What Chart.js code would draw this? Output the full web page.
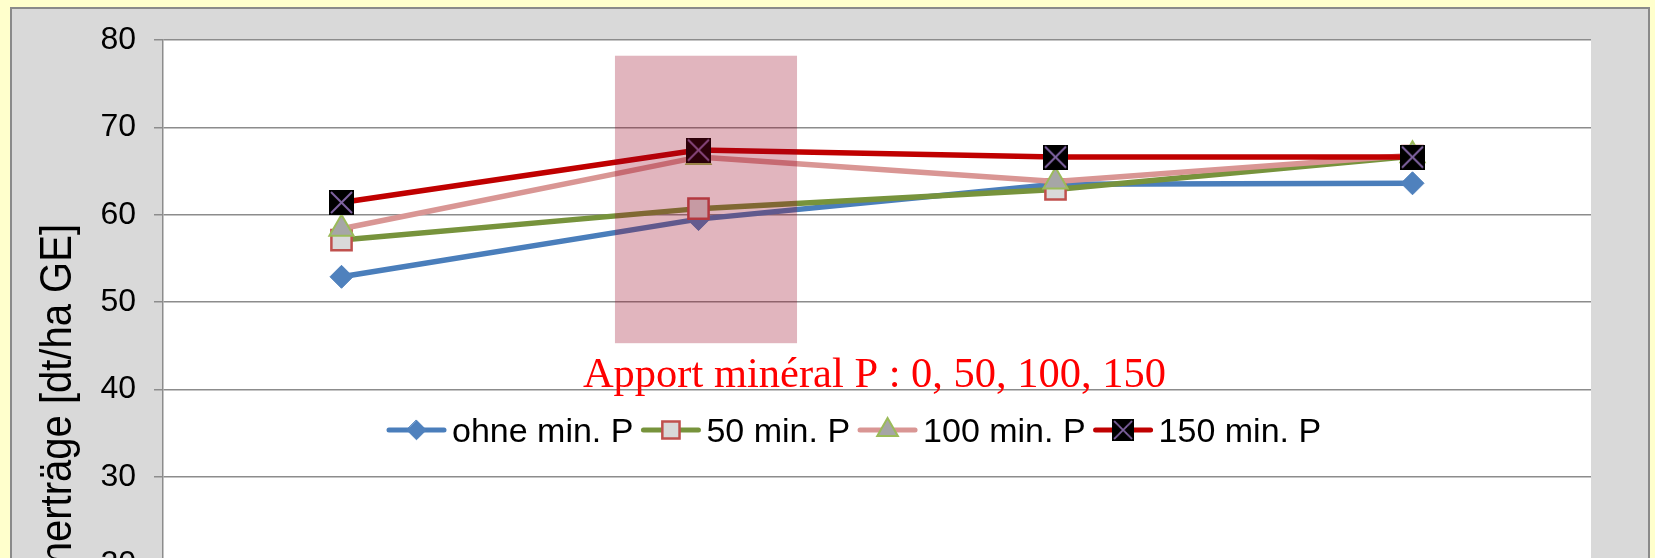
<!DOCTYPE html>
<html>
<head>
<meta charset="utf-8">
<script src="https://cdn.jsdelivr.net/npm/chart.js@4.4.0/dist/chart.umd.min.js"></script>
<style>
  html, body { margin: 0; padding: 0; background: #FFFFCC; overflow: hidden; }
  #wrap { width: 1655px; height: 558px; overflow: hidden; }
  canvas { display: block; }
</style>
</head>
<body>
<div id="wrap"><canvas id="chart" width="1655" height="780"></canvas></div>
<script>
// --- data (x labels are cut off at the bottom) ---
const categories = ['1', '2', '3', '4'];
const seriesNames = ['ohne min. P', '50 min. P', '100 min. P', '150 min. P'];
const ohneP = [52.9, 59.5, 63.5, 63.6];
const p50 = [57.1, 60.7, 62.9, 66.7];
const p100 = [58.4, 66.6, 63.8, 66.8];
const p150 = [61.4, 67.4, 66.6, 66.6];
const yTicks = [0, 10, 20, 30, 40, 50, 60, 70, 80];
const yAxisTitle = 'Kornerträge [dt/ha GE]';
const noteText = 'Apport minéral P : 0, 50, 100, 150';
// highlighted zone, in category index / y units
const zoneX = [0.766, 1.276];
const zoneY = [45.3, 78.2];

const SANS = '"Liberation Sans", Arial, sans-serif';
const SERIF = '"Liberation Serif", "Times New Roman", serif';

// black square with purple X (Excel style marker)
function makeCrossMarker(size) {
    const c = document.createElement('canvas');
    c.width = size;
    c.height = size;
    const g = c.getContext('2d');
    g.fillStyle = '#000';
    g.fillRect(0, 0, size, size);
    g.strokeStyle = '#8064A2';
    g.lineWidth = 2;
    g.beginPath();
    g.moveTo(2, 2); g.lineTo(size - 2, size - 2);
    g.moveTo(size - 2, 2); g.lineTo(2, size - 2);
    g.stroke();
    return c;
}
const crossMarker = makeCrossMarker(25);

// marker for the hand drawn legend
function drawMarker(ctx, ds, x, y, k) {
    const r = ds.pointRadius * k;
    const st = ds.pointStyle;
    ctx.save();
    if (typeof st === 'object') {
        const s = st.width * k;
        ctx.drawImage(st, x - s / 2, y - s / 2, s, s);
    } else {
        ctx.fillStyle = ds.pointBackgroundColor;
        ctx.strokeStyle = ds.pointBorderColor;
        ctx.lineWidth = ds.pointBorderWidth;
        ctx.beginPath();
        if (st === 'rectRot') {
            ctx.moveTo(x, y - r); ctx.lineTo(x + r, y); ctx.lineTo(x, y + r); ctx.lineTo(x - r, y);
        } else if (st === 'rect') {
            const h = r * Math.SQRT1_2;
            ctx.rect(x - h, y - h, 2 * h, 2 * h);
        } else if (st === 'triangle') {
            const s = Math.sin(Math.PI / 3) * r;
            ctx.moveTo(x, y - r); ctx.lineTo(x + s, y + r / 2); ctx.lineTo(x - s, y + r / 2);
        }
        ctx.closePath();
        ctx.fill();
        ctx.stroke();
    }
    ctx.restore();
}

// background: yellow page, grey frame, white plot area
const backdrop = {
    id: 'backdrop',
    beforeDraw(chart) {
        const { ctx, chartArea: a } = chart;
        ctx.save();
        ctx.fillStyle = '#FFFFCC';
        ctx.fillRect(0, 0, chart.width, chart.height);
        ctx.fillStyle = '#D9D9D9';
        ctx.fillRect(10, 7, 1640, chart.height);
        ctx.strokeStyle = '#8A8A8A';
        ctx.lineWidth = 2;
        ctx.strokeRect(11, 8, 1638, chart.height);
        ctx.fillStyle = '#FFFFFF';
        ctx.fillRect(a.left, a.top, a.right - a.left, a.bottom - a.top);
        ctx.restore();
    }
};

// translucent pink box over the second year
const zone = {
    id: 'zone',
    afterDatasetsDraw(chart) {
        const { ctx, scales: { x, y } } = chart;
        const x0 = x.getPixelForValue(zoneX[0]);
        const x1 = x.getPixelForValue(zoneX[1]);
        const y0 = y.getPixelForValue(zoneY[1]);
        const y1 = y.getPixelForValue(zoneY[0]);
        ctx.save();
        ctx.fillStyle = 'rgba(150, 0, 30, 0.29)';
        ctx.fillRect(x0, y0, x1 - x0, y1 - y0);
        ctx.restore();
    }
};

// note text, y axis title and legend
const extras = {
    id: 'extras',
    afterDraw(chart) {
        const ctx = chart.ctx;
        ctx.save();
        ctx.fillStyle = '#FF0000';
        ctx.font = '42.5px ' + SERIF;
        ctx.textAlign = 'center';
        ctx.textBaseline = 'alphabetic';
        ctx.fillText(noteText, 874.5, 387);
        ctx.restore();

        ctx.save();
        ctx.translate(71, 224);
        ctx.rotate(-Math.PI / 2);
        ctx.scale(1, 1.1);
        ctx.fillStyle = '#000';
        ctx.font = '40px ' + SANS;
        ctx.textAlign = 'right';
        ctx.textBaseline = 'alphabetic';
        ctx.fillText(yAxisTitle, 0, 0);
        ctx.restore();

        // legend: line + marker, then label
        let lx = 387;
        const ly = 430;
        ctx.save();
        ctx.font = '34px ' + SANS;
        ctx.textBaseline = 'alphabetic';
        chart.data.datasets.forEach(ds => {
            ctx.strokeStyle = ds.borderColor;
            ctx.lineWidth = 5;
            ctx.lineCap = 'round';
            ctx.beginPath();
            ctx.moveTo(lx + 2, ly);
            ctx.lineTo(lx + 57, ly);
            ctx.stroke();
            drawMarker(ctx, ds, lx + 29.5, ly, 0.85);
            ctx.fillStyle = '#000';
            ctx.fillText(ds.label, lx + 65, 442);
            lx += 65 + ctx.measureText(ds.label).width + 8;
        });
        ctx.restore();
    }
};

const lineBase = { tension: 0, borderWidth: 5.5, borderJoinStyle: 'round', borderCapStyle: 'round' };

new Chart(document.getElementById('chart'), {
    type: 'line',
    data: {
        labels: categories,
        datasets: [
            Object.assign({}, lineBase, {
                label: seriesNames[0], data: ohneP, order: 4,
                borderColor: '#4A7EBB', pointStyle: 'rectRot', pointRadius: 11.5,
                pointBackgroundColor: '#4F81BD', pointBorderColor: '#4F81BD', pointBorderWidth: 1
            }),
            Object.assign({}, lineBase, {
                label: seriesNames[1], data: p50, order: 3,
                borderColor: '#77933C', pointStyle: 'rect', pointRadius: 14.3,
                pointBackgroundColor: '#D9D9D9', pointBorderColor: '#C0504D', pointBorderWidth: 2.5
            }),
            Object.assign({}, lineBase, {
                label: seriesNames[2], data: p100, order: 2,
                borderColor: '#D99694', pointStyle: 'triangle', pointRadius: 14,
                pointBackgroundColor: '#A6A6A6', pointBorderColor: '#9BBB59', pointBorderWidth: 2
            }),
            Object.assign({}, lineBase, {
                label: seriesNames[3], data: p150, order: 1,
                borderColor: '#C00000', pointStyle: crossMarker, pointRadius: 12,
                pointBackgroundColor: '#000', pointBorderColor: '#8064A2', pointBorderWidth: 1
            })
        ]
    },
    options: {
        responsive: false,
        animation: false,
        events: [],
        layout: { padding: { left: 0, right: 64, top: 40, bottom: 41 } },
        plugins: { legend: { display: false }, tooltip: { enabled: false } },
        scales: {
            x: { display: false, offset: true },
            y: {
                min: 0,
                max: 80,
                afterBuildTicks: s => { s.ticks = yTicks.map(v => ({ value: v })); },
                afterFit: s => { s.width = 163; },
                ticks: { color: '#000', padding: 18, font: { family: SANS, size: 32 } },
                grid: { color: '#8C8C8C', lineWidth: 1.5, tickLength: 9, drawTicks: true },
                border: { display: true, color: '#8C8C8C', width: 1.5 }
            }
        }
    },
    plugins: [backdrop, zone, extras]
});
</script>
</body>
</html>
